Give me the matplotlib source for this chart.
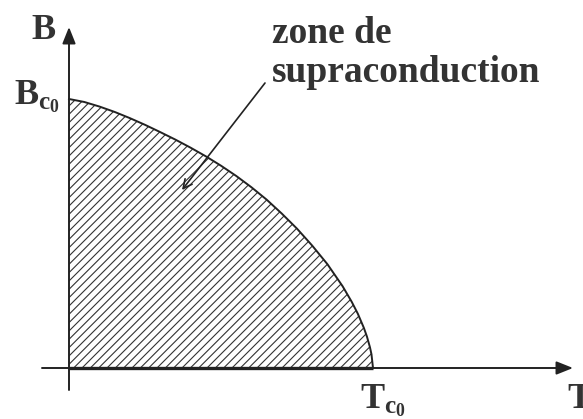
import matplotlib
matplotlib.use("Agg")
import matplotlib.pyplot as plt

# Critical field curve B_c(T), normalised to B_c0 and T_c0
t_vals = [0.00, 0.05, 0.10, 0.15, 0.20, 0.25, 0.30, 0.35, 0.40, 0.45, 0.50,
          0.55, 0.60, 0.65, 0.70, 0.75, 0.80, 0.85, 0.90, 0.93, 0.95, 0.97,
          0.98, 0.99, 0.995, 1.00]
b_vals = [1.000, 0.989, 0.972, 0.952, 0.929, 0.904, 0.877, 0.849, 0.819, 0.787, 0.752,
          0.714, 0.672, 0.626, 0.574, 0.518, 0.455, 0.386, 0.304, 0.246, 0.202, 0.149,
          0.117, 0.077, 0.051, 0.000]

label_B = "B"
label_T = "T"
label_Bc0 = r"$\mathbf{B_{c_0}}$"
label_Tc0 = r"$\mathbf{T_{c_0}}$"
zone_lines = ["zone de", "supraconduction"]

plt.rcParams["font.family"] = ["Liberation Serif", "DejaVu Serif"]
plt.rcParams["mathtext.fontset"] = "custom"
plt.rcParams["mathtext.bf"] = "Liberation Serif:bold"
plt.rcParams["mathtext.rm"] = "Liberation Serif"
plt.rcParams["hatch.linewidth"] = 0.8

W, H = 583, 419
fig = plt.figure(figsize=(W / 100, H / 100), dpi=100)
ax = fig.add_axes([0, 0, 1, 1])

# origin and unit lengths in figure pixels
x0, y0, sx, sy = 69, 368, 304, 269
ax.set_xlim(-x0 / sx, (W - x0) / sx)
ax.set_ylim((y0 - H) / sy, y0 / sy)
ax.axis("off")


def px(x, y):
    return (x - x0) / sx, (y0 - y) / sy


ink = "#222222"
txt = "#333333"

# hatched superconducting region
ax.fill_between(t_vals, 0, b_vals, facecolor="none", edgecolor="#333333",
                hatch="////", linewidth=0)
ax.plot(t_vals, b_vals, color=ink, lw=1.4, solid_joinstyle="round")

# axes with arrow heads
ax.annotate("", xy=px(573, 368), xytext=px(42, 368),
            arrowprops=dict(arrowstyle="-|>,head_length=0.5,head_width=0.2",
                            color=ink, lw=1.4, mutation_scale=20,
                            shrinkA=0, shrinkB=0))
ax.annotate("", xy=px(69, 27), xytext=px(69, 390),
            arrowprops=dict(arrowstyle="-|>,head_length=0.5,head_width=0.2",
                            color=ink, lw=1.4, mutation_scale=20,
                            shrinkA=0, shrinkB=0))
ax.plot([0, 1], [0, 0], color=ink, lw=2.4, solid_capstyle="butt")

fs = 26
ax.text(*px(43, 39), label_B, fontsize=fs, fontweight="bold", color=txt,
        ha="center", va="baseline")
ax.text(*px(567, 408), label_T, fontsize=fs, fontweight="bold", color=txt,
        ha="left", va="baseline")
ax.text(*px(14, 104), label_Bc0, fontsize=fs, color=txt, ha="left", va="baseline")
ax.text(*px(360, 408), label_Tc0, fontsize=fs, color=txt, ha="left", va="baseline")
for line, base in zip(zone_lines, [43, 82]):
    ax.text(*px(272, base), line, fontsize=27, fontweight="bold", color=txt,
            ha="left", va="baseline")

# pointer into the hatched zone
ax.annotate("", xy=px(182, 190), xytext=px(265, 83),
            arrowprops=dict(arrowstyle="->", color=ink, lw=1.2,
                            mutation_scale=16, shrinkA=0, shrinkB=0))

fig.savefig("out.png", dpi=100)
